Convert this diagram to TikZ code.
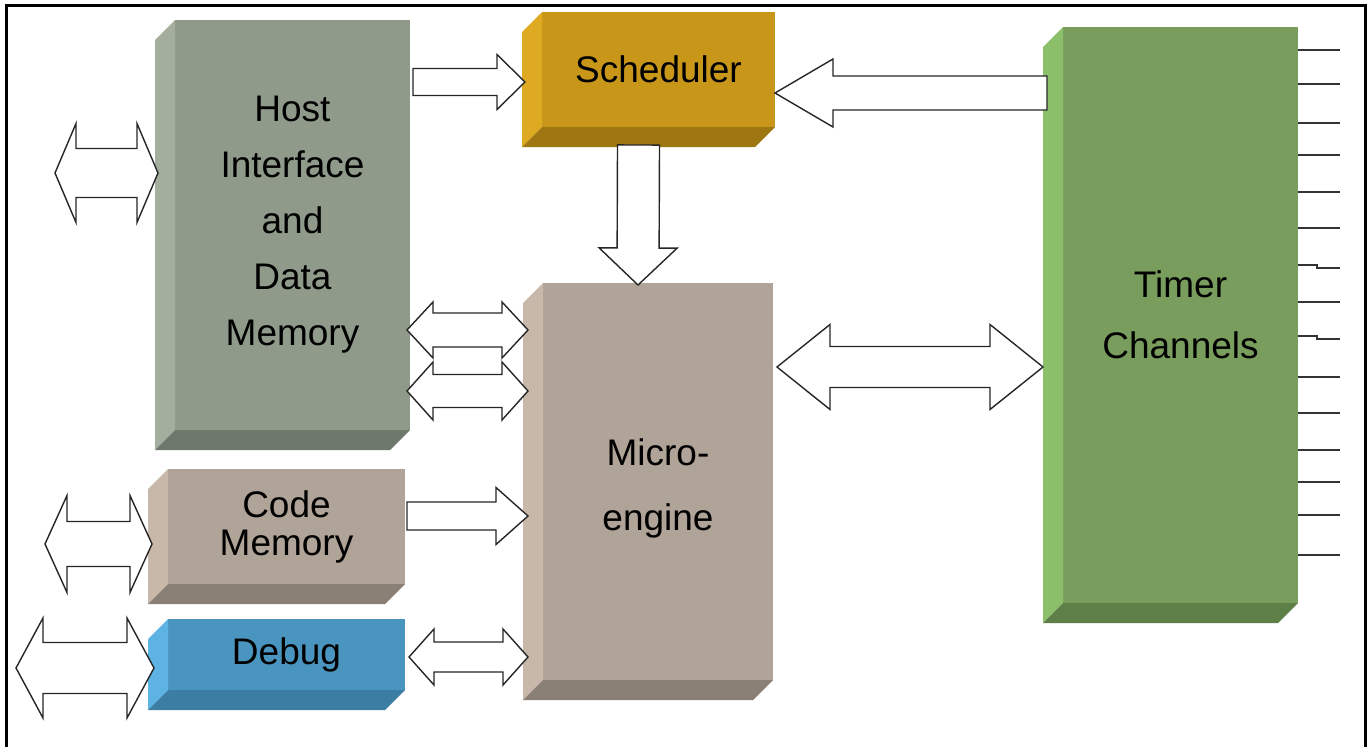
\documentclass[tikz,border=0pt]{standalone}
\usepackage{fontspec}
\setmainfont{Liberation Sans}
\usetikzlibrary{calc}
\definecolor{hostF}{RGB}{143,154,139}
\definecolor{hostS}{RGB}{163,174,159}
\definecolor{hostB}{RGB}{111,120,108}
\definecolor{schF}{RGB}{200,151,26}
\definecolor{schS}{RGB}{221,170,34}
\definecolor{schB}{RGB}{158,118,18}
\definecolor{micF}{RGB}{176,163,151}
\definecolor{micS}{RGB}{200,184,170}
\definecolor{micB}{RGB}{138,127,116}
\definecolor{dbgF}{RGB}{74,149,191}
\definecolor{dbgS}{RGB}{93,179,228}
\definecolor{dbgB}{RGB}{60,125,163}
\definecolor{tmrF}{RGB}{121,157,92}
\definecolor{tmrS}{RGB}{139,191,105}
\definecolor{tmrB}{RGB}{94,127,72}
\newcommand\boxfaces[3]{%
  \fill[#2] (#1.north west) -- ++(-20,20) -- ($(#1.south west)+(-20,20)$) -- (#1.south west) -- cycle;
  \fill[#3] (#1.south west) -- ++(-20,20) -- ($(#1.south east)+(-20,20)$) -- (#1.south east) -- cycle;}
\newcommand\blkarrow[5]{%
  \coordinate (ba-h) at ($(#2)!#5!(#1)$);
  \draw[barrow] ($(#1)!#3!90:(#2)$) -- ($(ba-h)!#3!90:(#2)$) -- ($(ba-h)!#4!90:(#2)$) -- (#2)
    -- ($(ba-h)!#4!-90:(#2)$) -- ($(ba-h)!#3!-90:(#2)$) -- ($(#1)!#3!-90:(#2)$) -- cycle;}
\newcommand\dblarrow[5]{%
  \coordinate (da-p) at ($(#1)!#5!(#2)$);
  \coordinate (da-q) at ($(#2)!#5!(#1)$);
  \draw[barrow] (#1) -- ($(da-p)!#4!90:(#2)$) -- ($(da-p)!#3!90:(#2)$) -- ($(da-q)!#3!90:(#2)$)
    -- ($(da-q)!#4!90:(#2)$) -- (#2) -- ($(da-q)!#4!-90:(#2)$) -- ($(da-q)!#3!-90:(#2)$)
    -- ($(da-p)!#3!-90:(#2)$) -- ($(da-p)!#4!-90:(#2)$) -- cycle;}
\begin{document}
\begin{tikzpicture}[x=1pt,y=-1pt,
  blk/.style={rectangle, inner sep=0pt, outer sep=0pt, align=center, text=black},
  barrow/.style={draw=black!85, fill=white, line width=1.4pt, line join=miter},
  pinline/.style={draw=black!80, line width=2.2pt},
  frame/.style={draw=black, line width=3pt}]
\fill[white] (0,0) rectangle (1369,747);
\useasboundingbox (0,0) rectangle (1369,747);
\draw[frame] (6,747) -- (6,5) -- (1365,5) -- (1365,747);
% boxes
\node[blk, fill=hostF, minimum width=235pt, minimum height=410pt,
  font=\fontsize{37}{56}\selectfont] (host) at (292.5,225) {Host\\Interface\\and\\Data\\Memory};
\boxfaces{host}{hostS}{hostB}
\node[blk, fill=schF, minimum width=233pt, minimum height=115pt,
  font=\fontsize{37}{44}\selectfont] (sched) at (658.5,69.5) {Scheduler};
\boxfaces{sched}{schS}{schB}
\node[blk, fill=micF, minimum width=230pt, minimum height=397pt,
  font=\fontsize{37}{65}\selectfont] (micro) at (658,481.5) {\rule{0pt}{41pt}Micro-\\engine};
\boxfaces{micro}{micS}{micB}
\node[blk, fill=micF, minimum width=237pt, minimum height=115pt,
  font=\fontsize{37}{38}\selectfont] (code) at (286.5,526.5) {Code\\Memory};
\boxfaces{code}{micS}{micB}
\node[blk, fill=dbgF, minimum width=237pt, minimum height=71pt,
  font=\fontsize{37}{44}\selectfont] (debug) at (286.5,654.5) {Debug};
\boxfaces{debug}{dbgS}{dbgB}
\node[blk, fill=tmrF, minimum width=235pt, minimum height=576pt,
  font=\fontsize{37}{61}\selectfont] (timer) at (1180.5,315) {Timer\\Channels};
\boxfaces{timer}{tmrS}{tmrB}
% timer pins
\foreach \yy in {50,84,123,155,192,228,302,377,413,450,482,515,555}
  \draw[pinline] (timer.east |- 0,\yy) -- ++(42,0);
\draw[pinline] (timer.east |- 0,265) -- ++(19,0) -- ++(0,3) -- ++(23,0);
\draw[pinline] (timer.east |- 0,336) -- ++(19,0) -- ++(0,3) -- ++(23,0);
% arrow end points
\coordinate (hsA) at ($(host.east |- 0,82)+(3,0)$);
\coordinate (hsB) at ($(sched.west |- 0,82)+(-17,0)$);
\coordinate (tsA) at ($(timer.west |- 0,93)+(-16,0)$);
\coordinate (tsB) at (sched.east |- 0,93);
\coordinate (smA) at ($(sched.south)+(-20,18)$);
\coordinate (smB) at ($(micro.north)+(-20,2)$);
\coordinate (hm1A) at ($(host.east |- 0,330)+(-3,0)$);
\coordinate (hm1B) at ($(micro.west |- 0,330)+(-15,0)$);
\coordinate (hm2A) at ($(host.east |- 0,391)+(-3,0)$);
\coordinate (hm2B) at ($(micro.west |- 0,391)+(-15,0)$);
\coordinate (hlA) at (55,173);
\coordinate (hlB) at ($(host.west |- 0,173)+(-17,0)$);
\coordinate (clA) at (45,544);
\coordinate (clB) at ($(code.west |- 0,544)+(-16,0)$);
\coordinate (dlA) at (16,668);
\coordinate (dlB) at ($(debug.west |- 0,668)+(-14,0)$);
\coordinate (cmA) at ($(code.east |- 0,516)+(2,0)$);
\coordinate (cmB) at ($(micro.west |- 0,516)+(-15,0)$);
\coordinate (dmA) at ($(debug.east |- 0,657)+(4,0)$);
\coordinate (dmB) at ($(micro.west |- 0,657)+(-15,0)$);
\coordinate (mtA) at ($(micro.east |- 0,367)+(4,0)$);
\coordinate (mtB) at ($(timer.west |- 0,367)+(-20,0)$);
% arrows
\blkarrow{hsA}{hsB}{13.5pt}{27.5pt}{28pt}
\blkarrow{tsA}{tsB}{17pt}{34pt}{58pt}
\blkarrow{smA}{smB}{21pt}{39pt}{37pt}
\blkarrow{cmA}{cmB}{14pt}{28.5pt}{32pt}
\dblarrow{hm1A}{hm1B}{17pt}{28pt}{26pt}
\dblarrow{hm2A}{hm2B}{16.5pt}{29pt}{26pt}
\dblarrow{hlA}{hlB}{24.5pt}{49.5pt}{21pt}
\dblarrow{clA}{clB}{22.5pt}{48.5pt}{22pt}
\dblarrow{dlA}{dlB}{25.5pt}{50pt}{27pt}
\dblarrow{dmA}{dmB}{15pt}{28pt}{25pt}
\dblarrow{mtA}{mtB}{20.5pt}{42.5pt}{53pt}
\end{tikzpicture}
\end{document}
